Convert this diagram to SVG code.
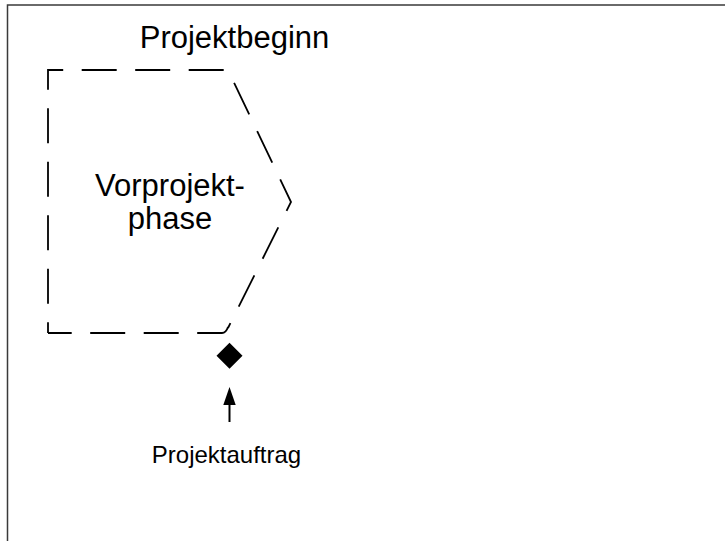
<svg xmlns="http://www.w3.org/2000/svg" width="725" height="541" viewBox="0 0 725 541">
<defs>
<style>
.frame{fill:none;stroke:#3a3a3a;stroke-width:1.5}
.dash{fill:none;stroke:#000;stroke-width:1.8;stroke-dasharray:35 18.5;stroke-linejoin:miter}
.lbl{font-family:"Liberation Sans",Arial,sans-serif;fill:#000;text-anchor:middle}
</style>
<marker id="ah" markerWidth="12" markerHeight="18" refX="0" refY="6" orient="auto" markerUnits="userSpaceOnUse" viewBox="0 0 18 12">
<path d="M0,0 L18,6 L0,12 Z" fill="#000"/>
</marker>
</defs>
<rect width="725" height="541" fill="#fff"/>
<rect class="frame" x="7.5" y="5" width="760" height="600"/>
<g id="projektbeginn">
<text class="lbl" x="234.5" y="48" font-size="31">Projektbeginn</text>
</g>
<g id="vorprojektphase">
<path class="dash" d="M48,333 V70 H228 L291,202 L228,328" stroke-dashoffset="24.3"/>
<path class="dash" d="M48,333 H222 Q226,333 228,327" stroke-dashoffset="11.3"/>
<text class="lbl" x="170" y="196" font-size="31">Vorprojekt-</text>
<text class="lbl" x="170" y="229" font-size="31">phase</text>
</g>
<g id="meilenstein">
<path d="M229.5,342.7 L242.5,355.7 L229.5,368.7 L216.5,355.7 Z" fill="#000"/>
</g>
<g id="connectors">
<path d="M229.5,422 V405" stroke="#000" stroke-width="2" fill="none"/>
<path d="M223.3,405 L229.5,387 L235.7,405 Z" fill="#000"/>
</g>
<g id="projektauftrag">
<text class="lbl" x="226.5" y="463" font-size="24">Projektauftrag</text>
</g>
</svg>
